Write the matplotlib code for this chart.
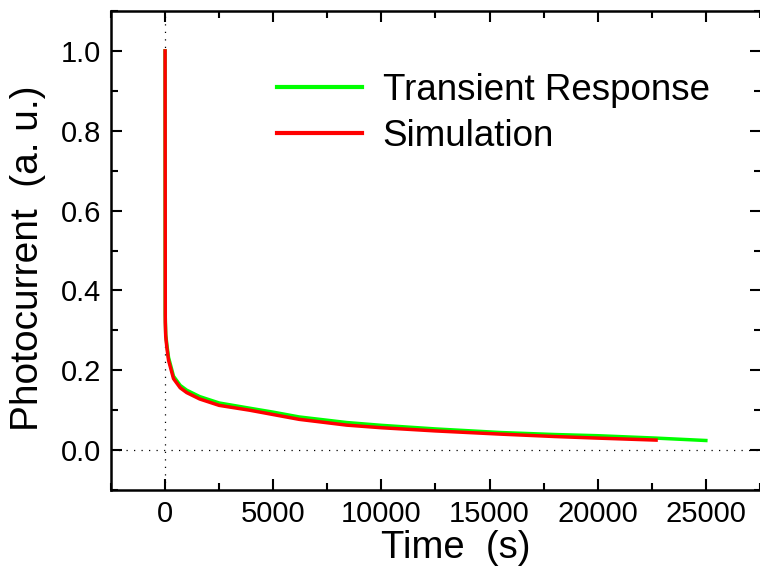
import matplotlib
matplotlib.use("Agg")
import matplotlib.pyplot as plt
from matplotlib.ticker import MultipleLocator

plt.rcParams['font.family'] = ['Liberation Sans', 'DejaVu Sans']

# Transient response (measured)
t_meas = [0, 5, 30, 80, 160, 390, 700, 1000, 1600, 2500, 3900, 5000, 6200,
          8400, 10000, 12500, 15500, 18000, 20000, 22700, 25000]
i_meas = [1.0, 0.34, 0.29, 0.265, 0.232, 0.185, 0.162, 0.150, 0.134, 0.118,
          0.105, 0.095, 0.083, 0.069, 0.062, 0.053, 0.044, 0.039, 0.036,
          0.030, 0.024]

# Simulation
t_sim = [0, 10, 30, 80, 160, 390, 700, 1000, 1600, 2500, 3900, 5000, 6200,
         8400, 10000, 12500, 15500, 18000, 20000, 22700]
i_sim = [1.0, 0.32, 0.285, 0.258, 0.225, 0.179, 0.156, 0.144, 0.128, 0.112,
         0.100, 0.089, 0.077, 0.0625, 0.056, 0.048, 0.040, 0.034, 0.030, 0.025]

labels = ["Transient Response", "Simulation"]
xticks = [0, 5000, 10000, 15000, 20000, 25000]
yticks = [0.0, 0.2, 0.4, 0.6, 0.8, 1.0]

fig = plt.figure(figsize=(7.6, 5.71), dpi=100)
ax = fig.add_axes([111/760, 1-490/571, 650/760, 479/571])

ax.axvline(0, color='black', lw=0.9, ls=(0, (1, 5)), zorder=1)
ax.axhline(0, color='black', lw=0.9, ls=(0, (1, 5)), zorder=1)

ax.plot(t_meas, i_meas, color='#00ff00', lw=2.5, label=labels[0], zorder=2)
ax.plot(t_sim, i_sim, color='#ff0000', lw=2.5, label=labels[1], zorder=3)

ax.set_xlim(-2500, 27550)
ax.set_ylim(-0.1, 1.1)
ax.set_xticks(xticks)
ax.set_xticklabels([str(v) for v in xticks])
ax.set_yticks(yticks)
ax.set_yticklabels([f"{v:.1f}" for v in yticks])
ax.xaxis.set_minor_locator(MultipleLocator(2500))
ax.yaxis.set_minor_locator(MultipleLocator(0.1))
ax.tick_params(which='both', direction='in', top=True, right=True, width=1.5,
               labelsize=21)
ax.tick_params(which='major', length=8)
ax.tick_params(which='minor', length=5)
ax.tick_params(axis='y', pad=7)
ax.tick_params(axis='x', pad=7)
for s in ax.spines.values():
    s.set_linewidth(1.8)

ax.set_xlabel("Time  (s)", fontsize=27.5)
ax.xaxis.set_label_coords(0.53, -0.121)
ax.xaxis.label.set_va('center')
ax.set_ylabel("Photocurrent  (a. u.)", fontsize=28)
ax.yaxis.set_label_coords(-0.128, 0.484)
ax.yaxis.label.set_va('center')

leg = ax.legend(loc='upper left', bbox_to_anchor=(0.256, 0.87), frameon=False,
                fontsize=26.5, handlelength=2.3, handletextpad=0.56,
                labelspacing=0.28, borderaxespad=0, borderpad=0)
for h in leg.get_lines():
    h.set_linewidth(3)

fig.savefig("out.png", dpi=100)
